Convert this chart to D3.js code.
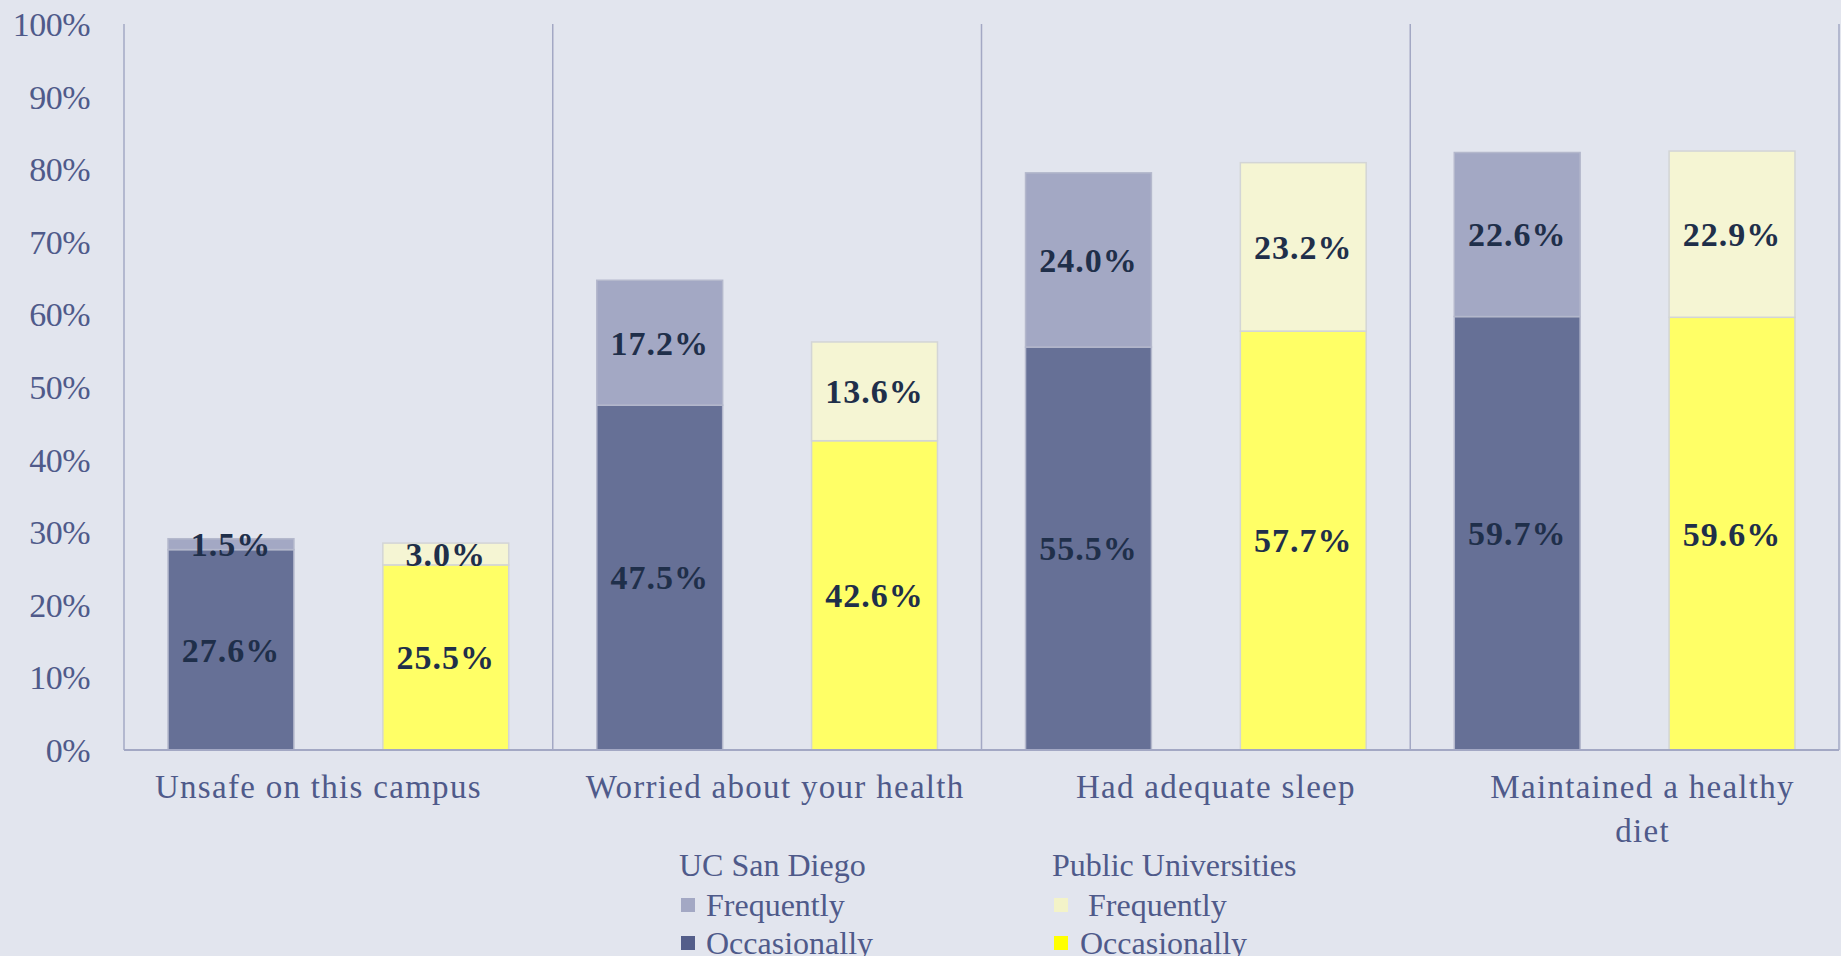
<!DOCTYPE html>
<html>
<head>
<meta charset="utf-8">
<script src="https://cdn.jsdelivr.net/npm/d3@7"></script>
<style>
  body { margin: 0; background: #e2e5ee; }
  svg { display: block; }
  .tick text { font-family: "Liberation Serif", serif; }
</style>
</head>
<body>
<div id="chart"></div>
<script>
// Stacked bars, UC San Diego vs public universities

const categories = ["Unsafe on this campus", "Worried about your health", "Had adequate sleep", "Maintained a healthy diet"];
const categoryLines = [["Unsafe on this campus"], ["Worried about your health"], ["Had adequate sleep"], ["Maintained a healthy", "diet"]];
const groups = ["UC San Diego", "Public Universities"];
const levels = ["Occasionally", "Frequently"];

// values in percent
const ucsdOccasionally = [27.6, 47.5, 55.5, 59.7];
const ucsdFrequently = [1.5, 17.2, 24.0, 22.6];
const publicOccasionally = [25.5, 42.6, 57.7, 59.6];
const publicFrequently = [3.0, 13.6, 23.2, 22.9];

const yTicks = [0, 0.1, 0.2, 0.3, 0.4, 0.5, 0.6, 0.7, 0.8, 0.9, 1.0];

const W = 1841, H = 956;
const plot = {left: 124, right: 1839, top: 24, bottom: 750};
const catLabelShift = [-20, 8, 20, 18]; // excel doesn't quite center these

const colors = {
    "UC San Diego": {Occasionally: "#667096", Frequently: "#a3a8c4"},
    "Public Universities": {Occasionally: "#ffff66", Frequently: "#f5f5d3"}
};
const legendColors = {
    "UC San Diego": {Occasionally: "#545e8a", Frequently: "#a3a8c4"},
    "Public Universities": {Occasionally: "#ffff00", Frequently: "#f3f3c8"}
};
const strokes = {"UC San Diego": "#b4b8cc", "Public Universities": "#d3d5d6"};
const axisColor = "#a3a8c4";
const textColor = "#4f5a8a";
const labelColor = "#1f2f4a";

const values = {
    "UC San Diego": {Occasionally: ucsdOccasionally, Frequently: ucsdFrequently},
    "Public Universities": {Occasionally: publicOccasionally, Frequently: publicFrequently}
};

// flatten into segments
let segments = [];
categories.forEach((c, ci) => {
    groups.forEach(g => {
	let base = 0;
	levels.forEach(l => {
	    const v = values[g][l][ci] / 100;
	    segments.push({cat: c, group: g, level: l, y0: base, y1: base + v, v: v});
	    base += v;
	});
    });
});

const svg = d3.select("#chart").append("svg")
      .attr("width", W)
      .attr("height", H);

svg.append("rect").attr("width", W).attr("height", H).attr("fill", "#e2e5ee");

const x0 = d3.scaleBand().domain(categories).range([plot.left, plot.right]).padding(0);
const x1 = d3.scaleBand().domain(groups).range([0, x0.bandwidth()])
      .paddingInner(0.414).paddingOuter(0.205);
const y = d3.scaleLinear().domain([0, 1]).range([plot.bottom, plot.top]);

// category dividers
svg.append("g")
    .selectAll("line")
    .data(categories.map(c => x0(c)).concat([plot.right]))
    .enter().append("line")
    .attr("x1", d => d).attr("x2", d => d)
    .attr("y1", y(1)).attr("y2", plot.bottom)
    .attr("stroke", axisColor)
    .attr("stroke-width", 1.5);

// y axis
const yAxis = svg.append("g")
      .attr("transform", "translate(" + plot.left + ",0)")
      .call(d3.axisLeft(y).tickValues(yTicks).tickFormat(d3.format(".0%")).tickSize(0).tickPadding(34));
yAxis.select(".domain").remove();
yAxis.selectAll("text")
    .attr("fill", textColor)
    .style("font-size", "34px")
    .style("letter-spacing", "-0.5px")
    .attr("dy", "0.34em");

// bars
svg.append("g")
    .selectAll("rect")
    .data(segments)
    .enter().append("rect")
    .attr("x", d => x0(d.cat) + x1(d.group))
    .attr("width", x1.bandwidth())
    .attr("y", d => y(d.y1))
    .attr("height", d => y(d.y0) - y(d.y1))
    .attr("fill", d => colors[d.group][d.level])
    .attr("stroke", d => strokes[d.group])
    .attr("stroke-width", 1.5);

// value labels
svg.append("g")
    .selectAll("text")
    .data(segments)
    .enter().append("text")
    .attr("x", d => x0(d.cat) + x1(d.group) + x1.bandwidth() / 2)
    .attr("y", d => y((d.y0 + d.y1) / 2))
    .attr("dy", "0.35em")
    .attr("text-anchor", "middle")
    .attr("fill", labelColor)
    .style("font-family", "Liberation Serif, serif")
    .style("font-weight", "bold")
    .style("font-size", "34px")
    .style("letter-spacing", "1px")
    .text(d => d3.format(".1%")(d.v));

// bottom axis line
svg.append("line")
    .attr("x1", plot.left).attr("x2", plot.right)
    .attr("y1", plot.bottom).attr("y2", plot.bottom)
    .attr("stroke", axisColor)
    .attr("stroke-width", 2);

// category labels
const catLabels = svg.append("g")
      .selectAll("text")
      .data(categories)
      .enter().append("text")
      .attr("x", (d, i) => x0(d) + x0.bandwidth() / 2 + catLabelShift[i])
      .attr("y", 798)
      .attr("text-anchor", "middle")
      .attr("fill", textColor)
      .style("font-family", "Liberation Serif, serif")
      .style("font-size", "33px")
      .style("letter-spacing", "1.3px");
catLabels.selectAll("tspan")
    .data((d, i) => categoryLines[i])
    .enter().append("tspan")
    .attr("x", function() { return d3.select(this.parentNode).attr("x"); })
    .attr("dy", (d, i) => i == 0 ? 0 : 44)
    .text(d => d);

// legend
const legendX = {"UC San Diego": 679, "Public Universities": 1052};
const legendTextX = {"UC San Diego": 706, "Public Universities": 1088};
const legendRows = ["Frequently", "Occasionally"];
groups.forEach(g => {
    const lg = svg.append("g");
    lg.append("text")
	.attr("x", legendX[g])
	.attr("y", 876)
	.attr("fill", textColor)
	.style("font-family", "Liberation Serif, serif")
	.style("font-size", "32px")
	.text(g);
    legendRows.forEach((l, i) => {
	const cy = 905 + i * 38;
	lg.append("rect")
	    .attr("x", legendX[g] + 2)
	    .attr("y", cy - 7)
	    .attr("width", 14).attr("height", 14)
	    .attr("fill", legendColors[g][l]);
	lg.append("text")
	    .attr("x", l == "Occasionally" && g == "Public Universities" ? legendTextX[g] - 8 : legendTextX[g])
	    .attr("y", cy)
	    .attr("dy", "0.35em")
	    .attr("fill", textColor)
	    .style("font-family", "Liberation Serif, serif")
	    .style("font-size", "32px")
	    .text(l);
    });
});
</script>
</body>
</html>
